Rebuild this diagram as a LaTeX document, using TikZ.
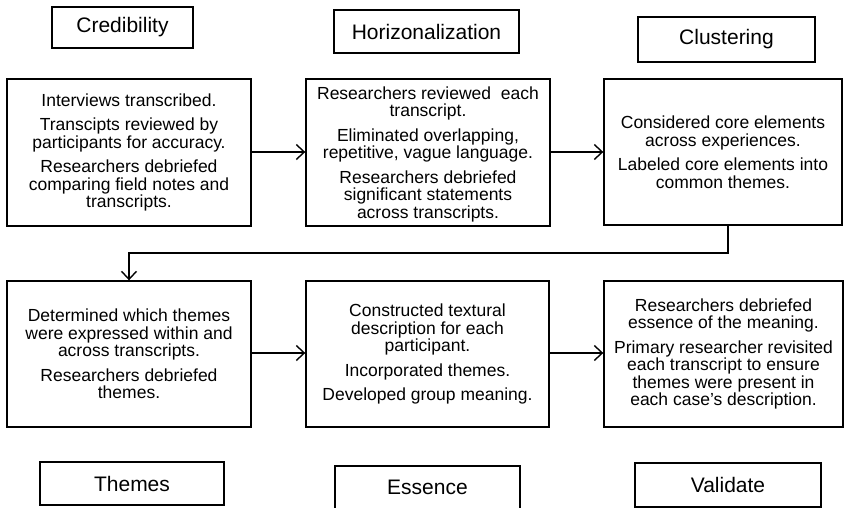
\documentclass[tikz,border=0pt]{standalone}
\usepackage{fontspec}
\setmainfont{Liberation Sans}
\usetikzlibrary{arrows.meta}
\tikzset{
  x=1pt, y=-1pt,
  box/.style={draw, line width=1.4pt, inner sep=2pt, align=center,
    font=\fontsize{17.5}{17.5}\selectfont},
  titlebox/.style={draw, line width=1.4pt, inner sep=0pt, align=center,
    font=\fontsize{21}{24}\selectfont},
  conn/.style={line width=1.4pt, -{Straight Barb[length=8pt,width=15pt,line width=1.4pt]}},
}
\newcommand{\pgap}{\\[7pt]}
\begin{document}
\begin{tikzpicture}
\useasboundingbox (0,0) rectangle (845,508);
% titles
\node[titlebox, minimum width=141pt, minimum height=41pt] (tcred) at (122.5,27.5) {Credibility};
\node[titlebox, minimum width=185pt, minimum height=43pt] (thor) at (426.5,31.5) {Horizonalization};
\node[titlebox, minimum width=177pt, minimum height=45pt] (tclu) at (726.5,39.5) {Clustering};
\node[titlebox, minimum width=184pt, minimum height=43pt] (tthe) at (132,483.5) {Themes};
\node[titlebox, minimum width=185pt, minimum height=50pt] (tess) at (427.5,491) {};
\node[font=\fontsize{21}{24}\selectfont] (tesslbl) at (427.5,487) {Essence};
\node[titlebox, minimum width=186pt, minimum height=44pt] (tval) at (728,485) {Validate};
% process boxes
\node[box, minimum width=244pt, minimum height=147pt] (b1) at (129,152.5)
  {Interviews transcribed.\pgap Transcipts reviewed by\\participants for accuracy.\pgap Researchers debriefed\\comparing field notes and\\transcripts.};
\node[box, minimum width=244pt, minimum height=147pt, text depth=0pt] (b2) at (428,152.5)
  {Researchers reviewed\ \ each\\transcript.\pgap Eliminated overlapping,\\repetitive, vague language.\pgap Researchers debriefed\\significant statements\\across transcripts.};
\node[box, minimum width=238pt, minimum height=146pt] (b3) at (723,152)
  {Considered core elements\\across experiences.\pgap Labeled core elements into\\common themes.};
\node[box, minimum width=244pt, minimum height=146pt] (b4) at (129,354)
  {Determined which themes\\were expressed within and\\across transcripts.\pgap Researchers debriefed\\themes.};
\node[box, minimum width=243pt, minimum height=146pt] (b5) at (427.5,354)
  {Constructed textural\\description for each\\participant.\pgap Incorporated themes.\pgap Developed group meaning.};
\node[box, minimum width=239pt, minimum height=146pt] (b6) at (723.5,354)
  {Researchers debriefed\\essence of the meaning.\pgap Primary researcher revisited\\each transcript to ensure\\themes were present in\\each case's description.};
% connectors
\draw[conn] (b1.east |- 0,152) -- (b2.west |- 0,152);
\draw[conn] (b2.east |- 0,152) -- (b3.west |- 0,152);
\coordinate (c1) at (728,253);
\coordinate (c2) at (129,253);
\draw[conn] (b3.south -| c1) -- (c1) -- (c2) -- (b4.north);
\draw[conn] (b4.east |- 0,353) -- (b5.west |- 0,353);
\draw[conn] (b5.east |- 0,353) -- (b6.west |- 0,353);
\end{tikzpicture}
\end{document}
